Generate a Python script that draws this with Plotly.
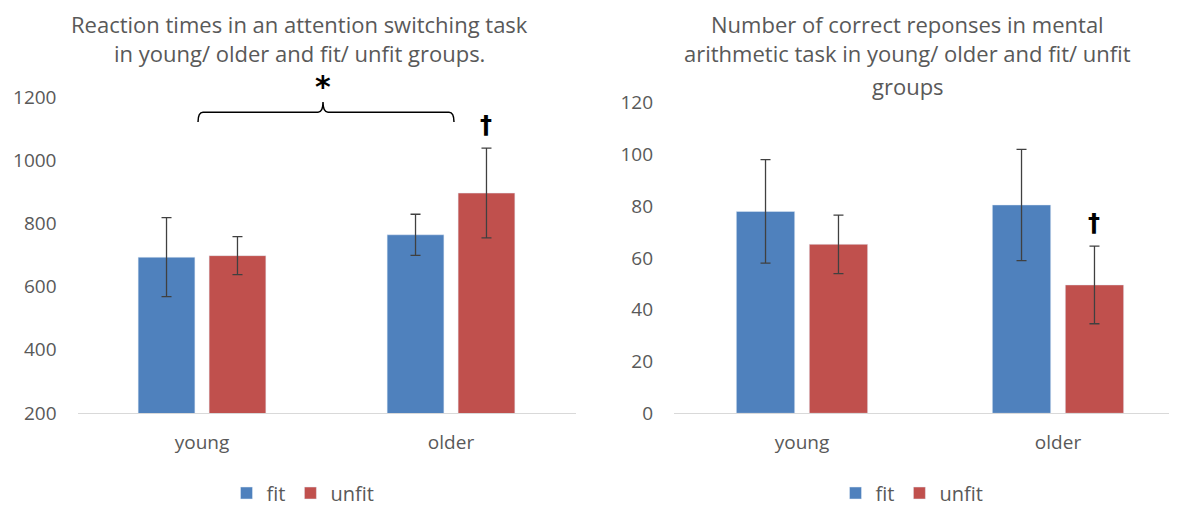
import plotly.graph_objects as go

# ---- data ----
groups = ["young", "older"]

rt_fit = [693, 764]
rt_fit_err = [125, 65]
rt_unfit = [698, 896]
rt_unfit_err = [60, 142]

ma_fit = [78, 80.5]
ma_fit_err = [20, 21.5]
ma_unfit = [65.3, 49.6]
ma_unfit_err = [11.3, 15]

rt_ticks = [200, 400, 600, 800, 1000, 1200]
ma_ticks = [0, 20, 40, 60, 80, 100, 120]

title_left = ["Reaction times in an attention switching task",
              "in young/ older and fit/ unfit groups."]
title_right = ["Number of correct reponses in mental",
               "arithmetic task in young/ older and fit/ unfit",
               "groups"]

BLUE = "#4F81BD"
RED = "#C0504D"
GREY = "#595959"
FONT = "Open Sans"

# the page body has an 8px default margin; work in window pixels
OFF = 8
W, H = 1177 - OFF, 505


def fx(px):
    return (px - OFF) / W


def fy(py):
    return 1 - (py - OFF) / H


fig = go.Figure()


def err(vals):
    return dict(type="data", array=vals, visible=True, color="#404040",
                thickness=1.3, width=5)


fig.add_trace(go.Bar(x=groups, y=rt_fit, name="fit", marker_color=BLUE,
                     error_y=err(rt_fit_err), xaxis="x", yaxis="y",
                     legend="legend"))
fig.add_trace(go.Bar(x=groups, y=rt_unfit, name="unfit", marker_color=RED,
                     error_y=err(rt_unfit_err), xaxis="x", yaxis="y",
                     legend="legend"))
fig.add_trace(go.Bar(x=groups, y=ma_fit, name="fit", marker_color=BLUE,
                     error_y=err(ma_fit_err), xaxis="x2", yaxis="y2",
                     legend="legend2"))
fig.add_trace(go.Bar(x=groups, y=ma_unfit, name="unfit", marker_color=RED,
                     error_y=err(ma_unfit_err), xaxis="x2", yaxis="y2",
                     legend="legend2"))

axis_font = dict(family=FONT, size=19, color=GREY)


def xaxis(domain, rng):
    return dict(domain=domain, range=rng, showgrid=False, zeroline=False,
                showline=True, linecolor="#D9D9D9", linewidth=1.3,
                ticks="", tickfont=axis_font, ticklabelstandoff=12,
                fixedrange=True)


def yaxis(domain, rng, ticks, anchor):
    return dict(domain=domain, range=rng, tickvals=ticks, showgrid=False,
                zeroline=False, showline=False, ticks="", tickfont=axis_font,
                ticklabelstandoff=20, anchor=anchor, fixedrange=True)


fig.update_layout(
    width=W, height=H,
    margin=dict(l=0, r=0, t=0, b=0, autoexpand=False),
    paper_bgcolor="white", plot_bgcolor="white",
    barmode="group", bargap=0.43, bargroupgap=0.2,
    font=dict(family=FONT, color=GREY),
    xaxis=xaxis([fx(77.5), fx(575.5)], [-0.5, 1.5]) | dict(anchor="y"),
    yaxis=yaxis([fy(413), fy(97)], [200, 1200], rt_ticks, "x"),
    xaxis2=xaxis([fx(674), 1.0], [-0.5, -0.5 + (1177 - 674) / 256]) | dict(anchor="y2"),
    yaxis2=yaxis([fy(413.3), fy(102.7)], [0, 120], ma_ticks, "x2"),
    legend=dict(orientation="h", x=fx(303), y=fy(493), xanchor="center",
                yanchor="middle", font=dict(family=FONT, size=20, color=GREY),
                itemwidth=30, tracegroupgap=0, bgcolor="rgba(0,0,0,0)"),
    legend2=dict(orientation="h", x=fx(912), y=fy(493), xanchor="center",
                 yanchor="middle", font=dict(family=FONT, size=20, color=GREY),
                 itemwidth=30, tracegroupgap=0, bgcolor="rgba(0,0,0,0)"),
)


def add_title(lines, cx):
    for i, line in enumerate(lines):
        if i == 0:
            pos = dict(y=1.0, yanchor="top")
        else:
            pos = dict(y=fy(21 + 32.5 * i), yanchor="middle")
        fig.add_annotation(text=line, xref="paper", yref="paper", x=fx(cx),
                           xanchor="center", showarrow=False, borderpad=0,
                           font=dict(family=FONT, size=22, color=GREY), **pos)


# titles (one annotation per line for Excel-like line spacing)
add_title(title_left, 299)
add_title(title_right, 908)

# significance brace between young and older (left chart)
x0, x1, xc = -0.016, 1.012, 0.486
y_end, y_h, y_tip = 1121, 1152, 1184
dx = 0.02
path = (f"M {x0},{y_end} Q {x0},{y_h} {x0+dx},{y_h} L {xc-dx},{y_h} "
        f"Q {xc},{y_h} {xc},{y_tip} Q {xc},{y_h} {xc+dx},{y_h} "
        f"L {x1-dx},{y_h} Q {x1},{y_h} {x1},{y_end}")
fig.add_shape(type="path", path=path, xref="x", yref="y",
              line=dict(color="black", width=1.5))

fig.add_annotation(text="<b>*</b>", x=xc, y=fy(86), xref="x", yref="paper",
                   showarrow=False, xanchor="center", yanchor="middle",
                   font=dict(family="DejaVu Sans", size=30, color="black"))
fig.add_annotation(text="<b>†</b>", x=1.1425, y=1111, xref="x", yref="y",
                   showarrow=False, xanchor="center", yanchor="middle",
                   font=dict(family="DejaVu Sans", size=24, color="black"))
fig.add_annotation(text="<b>†</b>", x=1.142, y=73.5, xref="x2", yref="y2",
                   showarrow=False, xanchor="center", yanchor="middle",
                   font=dict(family="DejaVu Sans", size=24, color="black"))

fig.write_html("out.html")
